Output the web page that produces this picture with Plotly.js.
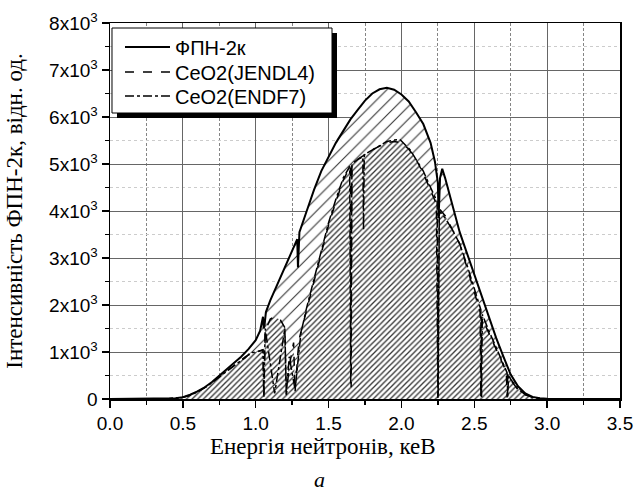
<!DOCTYPE html>
<html>
<head>
<meta charset="utf-8">
<script src="https://cdn.plot.ly/plotly-3.0.1.min.js"></script>
<style>html,body{margin:0;padding:0;background:#fff;}#chart{width:637px;height:495px;}</style>
</head>
<body>
<div id="chart"></div>
<script>
// ---- data ----
const seriesNames = ["ФПН-2к", "CeO2(JENDL4)", "CeO2(ENDF7)"];

const xFPN = [0, 0.3, 0.4, 0.45, 0.5, 0.55, 0.6, 0.65, 0.7, 0.75, 0.8, 0.85, 0.9, 0.95, 1.0, 1.03, 1.05, 1.055, 1.06, 1.07, 1.1, 1.15, 1.2, 1.25, 1.285, 1.29, 1.295, 1.3, 1.35, 1.4, 1.45, 1.5, 1.55, 1.6, 1.65, 1.7, 1.75, 1.8, 1.85, 1.9, 1.95, 2.0, 2.05, 2.1, 2.15, 2.2, 2.23, 2.25, 2.255, 2.265, 2.28, 2.3, 2.35, 2.4, 2.45, 2.5, 2.55, 2.6, 2.65, 2.7, 2.75, 2.8, 2.85, 2.9, 2.95, 3.0, 3.2, 3.5];
const yFPN = [0, 0, 5, 15, 40, 90, 160, 250, 360, 490, 630, 760, 900, 1060, 1250, 1450, 1750, 1500, 1550, 1850, 2100, 2450, 2800, 3150, 3400, 2800, 3450, 3550, 4000, 4450, 4850, 5150, 5450, 5700, 5950, 6150, 6350, 6500, 6590, 6620, 6580, 6480, 6330, 6100, 5850, 5450, 5050, 4600, 3850, 4700, 4900, 4700, 4100, 3550, 3100, 2650, 2200, 1750, 1300, 900, 520, 270, 120, 45, 15, 5, 0, 0];

const xJENDL = [0, 0.3, 0.4, 0.5, 0.55, 0.6, 0.65, 0.7, 0.75, 0.8, 0.85, 0.9, 0.93, 0.96, 1.0, 1.04, 1.05, 1.056, 1.065, 1.1, 1.13, 1.17, 1.2, 1.21, 1.23, 1.26, 1.27, 1.29, 1.3, 1.35, 1.4, 1.45, 1.5, 1.55, 1.6, 1.64, 1.65, 1.655, 1.66, 1.7, 1.75, 1.8, 1.85, 1.9, 1.95, 2.0, 2.05, 2.1, 2.15, 2.2, 2.24, 2.25, 2.26, 2.3, 2.35, 2.4, 2.45, 2.5, 2.54, 2.545, 2.55, 2.6, 2.65, 2.7, 2.72, 2.725, 2.73, 2.75, 2.8, 2.85, 2.9, 2.95, 3.0, 3.2, 3.5];
const yJENDL = [0, 0, 5, 35, 80, 150, 240, 350, 470, 600, 720, 830, 900, 950, 1000, 1030, 1050, 30, 1450, 1700, 1750, 1680, 1520, 80, 700, 1200, 150, 1000, 1300, 1900, 2500, 3100, 3700, 4200, 4650, 4900, 4950, 250, 4950, 5100, 5200, 5300, 5380, 5450, 5480, 5450, 5320, 5100, 4800, 4450, 4150, 20, 4050, 3900, 3600, 3300, 2800, 2300, 1850, 30, 1750, 1400, 1050, 700, 580, 30, 530, 400, 200, 90, 35, 10, 3, 0, 0];

const xENDF = [0, 0.3, 0.4, 0.5, 0.55, 0.6, 0.65, 0.7, 0.75, 0.8, 0.85, 0.9, 0.93, 0.96, 1.0, 1.04, 1.05, 1.056, 1.065, 1.13, 1.2, 1.21, 1.23, 1.27, 1.31, 1.35, 1.4, 1.45, 1.5, 1.55, 1.6, 1.645, 1.652, 1.66, 1.7, 1.735, 1.74, 1.745, 1.8, 1.85, 1.9, 1.95, 1.99, 2.06, 2.1, 2.15, 2.2, 2.245, 2.252, 2.26, 2.3, 2.35, 2.4, 2.45, 2.5, 2.545, 2.55, 2.555, 2.6, 2.65, 2.7, 2.725, 2.73, 2.735, 2.75, 2.8, 2.85, 2.9, 2.95, 3.0, 3.2, 3.5];
const yENDF = [0, 0, 5, 35, 80, 150, 240, 350, 470, 600, 720, 820, 880, 980, 1000, 1040, 1050, 50, 1500, 120, 1500, 100, 900, 200, 1400, 1950, 2550, 3150, 3750, 4250, 4700, 4950, 300, 5000, 5100, 5150, 3600, 5200, 5300, 5400, 5480, 5510, 5520, 5300, 5100, 4850, 4500, 4200, 30, 4000, 3850, 3600, 3300, 2850, 2350, 1900, 40, 1800, 1450, 1100, 750, 560, 40, 520, 420, 210, 95, 35, 10, 3, 0, 0];

const yTickVals = [0, 1000, 2000, 3000, 4000, 5000, 6000, 7000, 8000];
const yTickText = ["0", "1x10<sup>3</sup>", "2x10<sup>3</sup>", "3x10<sup>3</sup>", "4x10<sup>3</sup>", "5x10<sup>3</sup>", "6x10<sup>3</sup>", "7x10<sup>3</sup>", "8x10<sup>3</sup>"];

const xTitle = 'Енергія нейтронів, кеВ';
const yTitle = 'Інтенсивність ФПН-2к, відн. од.';
const panelLabel = 'а';

// ---- traces ----
const fills = [
  {x: xFPN, y: yFPN, size: 9, sol: 0.12},
  {x: xJENDL, y: yJENDL, size: 4, sol: 0.33},
  {x: xENDF, y: yENDF, size: 4, sol: 0.33}
].map(f => ({
  type: 'scatter', mode: 'none', x: f.x, y: f.y, fill: 'tozeroy', showlegend: false, hoverinfo: 'skip',
  fillcolor: 'rgba(0,0,0,0)',
  fillpattern: {shape: '/', size: f.size, solidity: f.sol, fgcolor: '#333', bgcolor: '#fff', fgopacity: 1}
}));

const lines = [
  {type: 'scatter', mode: 'lines', name: seriesNames[0], legend: 'legend', x: xFPN, y: yFPN, line: {color: '#000', width: 2}},
  {type: 'scatter', mode: 'lines', name: seriesNames[1], legend: 'legend2', x: xJENDL, y: yJENDL, line: {color: '#000', width: 1.5, dash: 'dash'}},
  {type: 'scatter', mode: 'lines', name: seriesNames[2], legend: 'legend3', x: xENDF, y: yENDF, line: {color: '#000', width: 1.5, dash: 'dashdot'}}
];

const tickFont = {family: 'Liberation Sans, Arial, sans-serif', size: 19, color: '#000'};
const titleFont = {family: 'Liberation Serif, Times New Roman, serif', size: 23, color: '#000'};

function legendAt(y) {
  return {
    x: 0.0196, y: y, xanchor: 'left', yanchor: 'middle',
    bgcolor: 'rgba(0,0,0,0)', borderwidth: 0,
    font: {family: 'Liberation Sans, Arial, sans-serif', size: 20, color: '#000'},
    itemwidth: 45
  };
}

const layout = {
  width: 637, height: 495,
  margin: {l: 110, r: 17, t: 23, b: 96},
  paper_bgcolor: '#fff', plot_bgcolor: '#fff',
  showlegend: true,
  legend: legendAt(0.936),
  legend2: legendAt(0.870),
  legend3: legendAt(0.806),
  xaxis: {
    range: [0, 3.5], dtick: 0.5, tick0: 0, tickformat: '.1f',
    showline: true, linecolor: '#000', linewidth: 1.5, mirror: true,
    ticks: 'outside', ticklen: 7, tickwidth: 1.5, tickcolor: '#000',
    showgrid: true, gridcolor: '#666', gridwidth: 1,
    zeroline: false,
    tickfont: tickFont,
    minor: {dtick: 0.25, ticks: 'outside', ticklen: 4, tickcolor: '#000', showgrid: true, gridcolor: '#666', griddash: '3px,2px', gridwidth: 0.8}
  },
  yaxis: {
    range: [0, 8000], tickvals: yTickVals, ticktext: yTickText,
    showline: true, linecolor: '#000', linewidth: 1.5, mirror: true,
    ticks: 'outside', ticklen: 7, tickwidth: 1.5, tickcolor: '#000',
    showgrid: true, gridcolor: '#666', gridwidth: 1,
    zeroline: false,
    tickfont: tickFont,
    minor: {dtick: 500, tick0: 0, ticks: 'outside', ticklen: 4, tickcolor: '#000', showgrid: true, gridcolor: '#ccc', griddash: 'dot', gridwidth: 1},
    title: {text: yTitle, font: titleFont, standoff: 20}
  },
  shapes: [
    {type: 'rect', xref: 'paper', yref: 'paper', x0: 0.0137, x1: 0.4451, y0: 0.7473, y1: 0.9734, fillcolor: '#000', line: {width: 0}, layer: 'above'},
    {type: 'rect', xref: 'paper', yref: 'paper', x0: 0.0039, x1: 0.4353, y0: 0.7606, y1: 0.9867, fillcolor: '#fff', line: {color: '#000', width: 1}, layer: 'above'}
  ],
  annotations: [
    {text: xTitle, xref: 'paper', yref: 'paper', x: 0.418, y: -0.125, showarrow: false, xanchor: 'center', yanchor: 'middle',
     font: titleFont},
    {text: '<i>' + panelLabel + '</i>', xref: 'paper', yref: 'paper', x: 0.41, y: -0.215, showarrow: false, xanchor: 'center', yanchor: 'middle',
     font: {family: 'Liberation Serif, Times New Roman, serif', size: 22, color: '#000'}}
  ]
};

Plotly.newPlot('chart', fills.concat(lines), layout, {staticPlot: true, displayModeBar: false});
</script>
</body>
</html>
